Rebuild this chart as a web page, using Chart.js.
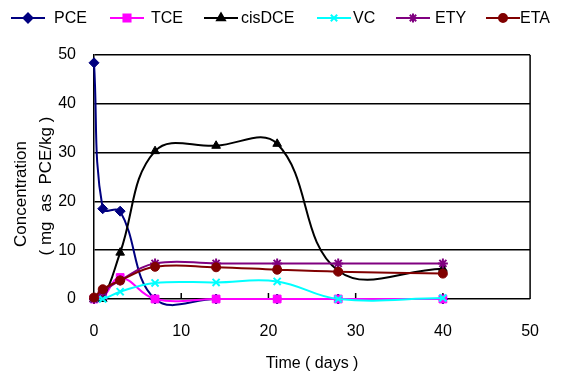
<!DOCTYPE html>
<html>
<head>
<meta charset="utf-8">
<script src="https://cdn.jsdelivr.net/npm/chart.js@4/dist/chart.umd.min.js"></script>
<style>
  html, body { margin: 0; padding: 0; background: #fff; }
</style>
</head>
<body>
<canvas id="graph" width="562" height="374"></canvas>
<script>
// days of sampling and measured concentrations (mg as PCE/kg)
const days   = [0, 1, 3, 7, 14, 21, 28, 40];
const pce    = [48.4, 18.5, 18, 0, 0, 0, 0, 0];
const tce    = [0, 0.3, 4.4, 0, 0, 0, 0, 0];
const cisDCE = [0, 0, 9.5, 30.3, 31.4, 31.8, 5.8, 6.2];
const vc     = [0, 0, 1.5, 3.3, 3.4, 3.6, 0, 0.2];
const ety    = [0, 1.5, 3.8, 7.3, 7.3, 7.3, 7.3, 7.3];
const eta    = [0.3, 2, 3.8, 6.6, 6.5, 6, 5.6, 5.2];

const seriesNames = ['PCE', 'TCE', 'cisDCE', 'VC', 'ETY', 'ETA'];
const xTicks = [0, 10, 20, 30, 40, 50];
const yTicks = [0, 10, 20, 30, 40, 50];
const xTitle = 'Time ( days )';
const yTitle = ['Concentration', '( mg  as  PCE/kg )'];

const FONT = "'Liberation Sans', Arial, sans-serif";

// look of each series
const looks = [
  { color: '#000080', style: 'rectRot',  r: 5,   bw: 1 },
  { color: '#ff00ff', style: 'rect',     r: 5.5, bw: 1 },
  { color: '#000000', style: 'triangle', r: 5,   bw: 1 },
  { color: '#00ffff', style: 'crossRot', r: 5,   bw: 2 },
  { color: '#800080', style: 'star',     r: 5,   bw: 2 },
  { color: '#800000', style: 'circle',   r: 4.5, bw: 1 }
];
const values = [pce, tce, cisDCE, vc, ety, eta];

const datasets = seriesNames.map((name, i) => ({
  label: name,
  data: days.map((d, k) => ({ x: d, y: values[i][k] })),
  showLine: true,
  borderColor: looks[i].color,
  borderWidth: 2,
  tension: 0.4,
  pointStyle: looks[i].style,
  pointRadius: looks[i].r,
  pointBackgroundColor: looks[i].color,
  pointBorderColor: looks[i].color,
  pointBorderWidth: looks[i].bw,
  clip: false,
  order: seriesNames.length - i
}));

// legend row, right border, small inner ticks, y title
const legendX = [[11, 54], [110, 151], [204, 241], [317, 353], [396, 435], [486, 520]];
const extras = {
  id: 'extras',
  beforeDatasetsDraw(chart) {
    const ctx = chart.ctx;
    const a = chart.chartArea;
    const x = chart.scales.x, y = chart.scales.y;
    ctx.save();
    ctx.strokeStyle = '#000';
    ctx.lineWidth = 1.5;
    ctx.beginPath();
    ctx.moveTo(a.right, a.top);
    ctx.lineTo(a.right, a.bottom);
    ctx.stroke();
    const y0 = y.getPixelForValue(0);
    xTicks.forEach(v => {
      if (v > x.min && v < x.max) {
        const px = x.getPixelForValue(v);
        ctx.beginPath();
        ctx.moveTo(px, y0);
        ctx.lineTo(px, y0 - 6);
        ctx.stroke();
      }
    });
    ctx.restore();
  },
  afterDraw(chart) {
    const ctx = chart.ctx;
    ctx.save();
    ctx.font = '16px ' + FONT;
    ctx.textBaseline = 'middle';
    ctx.fillStyle = '#000';
    const ly = 18;
    seriesNames.forEach((name, i) => {
      const [x0, tx] = legendX[i];
      ctx.strokeStyle = looks[i].color;
      ctx.lineWidth = 2;
      ctx.beginPath();
      ctx.moveTo(x0, ly);
      ctx.lineTo(x0 + 34, ly);
      ctx.stroke();
      ctx.fillStyle = looks[i].color;
      Chart.helpers.drawPoint(ctx, { pointStyle: looks[i].style, radius: looks[i].r - 0.5, borderWidth: looks[i].bw, rotation: 0 }, x0 + 17, ly);
      ctx.fillStyle = '#000';
      ctx.fillText(name, tx, ly + 1);
    });
    // y axis title, two rotated lines
    ctx.font = '17px ' + FONT;
    ctx.textAlign = 'center';
    [[21, 194], [46, 186]].forEach((p, i) => {
      ctx.save();
      ctx.translate(p[0], p[1]);
      ctx.rotate(-Math.PI / 2);
      ctx.fillText(yTitle[i], 0, 0);
      ctx.restore();
    });
    ctx.restore();
  }
};

new Chart(document.getElementById('graph'), {
  type: 'scatter',
  data: { datasets: datasets },
  plugins: [extras],
  options: {
    responsive: false,
    animation: false,
    devicePixelRatio: 1,
    layout: { padding: { top: 55, right: 10, left: 0, bottom: 0 } },
    elements: { line: { capBezierPoints: false } },
    plugins: { legend: { display: false }, tooltip: { enabled: false } },
    scales: {
      x: {
        type: 'linear',
        min: 0, max: 50,
        afterBuildTicks: s => { s.ticks = xTicks.map(v => ({ value: v })); },
        afterFit: s => { s.height = 75; },
        grid: { display: false, drawTicks: false },
        border: { display: false },
        ticks: { color: '#000', padding: 23, font: { family: FONT, size: 16 } },
        title: { display: true, text: xTitle, color: '#000', padding: { top: 0, bottom: 1 }, font: { family: FONT, size: 16 } }
      },
      y: {
        min: 0, max: 50,
        afterBuildTicks: s => { s.ticks = yTicks.map(v => ({ value: v })); },
        afterFit: s => { s.width = 94; },
        grid: { color: '#000', lineWidth: 1.5, drawTicks: false },
        border: { color: '#000', width: 1.5 },
        ticks: { color: '#000', padding: 18, font: { family: FONT, size: 16 } }
      }
    }
  }
});
</script>
</body>
</html>
